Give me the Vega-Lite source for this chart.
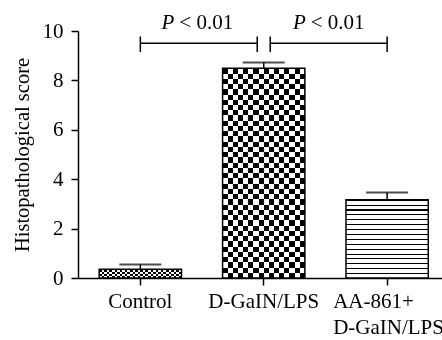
{
  "$schema": "https://vega.github.io/schema/vega-lite/v6.json",
  "width": 364,
  "height": 247,
  "autosize": "none",
  "padding": {"left": 78, "top": 31, "right": 0, "bottom": 62},
  "background": "white",
  "config": {"font": "Liberation Serif", "view": {"stroke": null}},
  "data": {"values": [
    {"group": "Control", "score": 0.35, "hi": 0.55},
    {"group": "D-GaIN/LPS", "score": 8.49, "hi": 8.72},
    {"group": "AA-861+ D-GaIN/LPS", "score": 3.17, "hi": 3.46}
  ]},
  "layer": [
    {
      "transform": [{"filter": "datum.group === 'Control'"}],
      "mark": {"type": "bar", "fill": {"gradient": "linear", "x1": 0, "y1": 0, "x2": 0, "y2": 1, "stops": [
        {"offset": 0, "color": "#000"}, {"offset": 0.25, "color": "#000"},
        {"offset": 0.25, "color": "#fff"}, {"offset": 0.5, "color": "#fff"},
        {"offset": 0.5, "color": "#000"}, {"offset": 0.75, "color": "#000"},
        {"offset": 0.75, "color": "#fff"}, {"offset": 1, "color": "#fff"}
      ]}},
      "encoding": {
        "x": {"field": "group", "type": "nominal", "title": null,
          "scale": {"domain": ["Control", "D-GaIN/LPS", "AA-861+ D-GaIN/LPS"], "paddingInner": 0.333, "paddingOuter": 0.1415, "align": 0.607},
          "axis": {"labelAngle": 0, "labelFontSize": 21, "labelColor": "#000", "tickSize": 7, "tickWidth": 1.5, "tickColor": "#000", "domainColor": "#000", "domainWidth": 1.5, "labelPadding": 5, "labelLineHeight": 26,
            "labelExpr": "datum.value == 'AA-861+ D-GaIN/LPS' ? ['AA-861+', 'D-GaIN/LPS'] : datum.value",
            "labelAlign": {"condition": {"test": "datum.value == 'AA-861+ D-GaIN/LPS'", "value": "left"}, "value": "center"},
            "labelOffset": {"condition": {"test": "datum.value == 'AA-861+ D-GaIN/LPS'", "value": -54}, "value": 0}}},
        "y": {"field": "score", "type": "quantitative", "title": "Histopathological score",
          "scale": {"domain": [0, 10], "nice": false},
          "axis": {"values": [0, 2, 4, 6, 8, 10], "grid": false, "labelFontSize": 21, "labelColor": "#000", "titleFontSize": 20.5, "titleFontWeight": "normal", "titleColor": "#000", "tickSize": 7, "tickWidth": 1.5, "tickColor": "#000", "domainColor": "#000", "domainWidth": 1.5, "labelPadding": 8, "titlePadding": 10}}
      }
    },
    {
      "transform": [{"filter": "datum.group === 'Control'"}],
      "mark": {"type": "bar", "blend": "difference", "fill": {"gradient": "linear", "x1": 0, "y1": 0, "x2": 1, "y2": 0, "stops": [
        {"offset": 0, "color": "#000"}, {"offset": 0.03125, "color": "#000"},
        {"offset": 0.03125, "color": "#fff"}, {"offset": 0.0625, "color": "#fff"},
        {"offset": 0.0625, "color": "#000"}, {"offset": 0.09375, "color": "#000"},
        {"offset": 0.09375, "color": "#fff"}, {"offset": 0.125, "color": "#fff"},
        {"offset": 0.125, "color": "#000"}, {"offset": 0.15625, "color": "#000"},
        {"offset": 0.15625, "color": "#fff"}, {"offset": 0.1875, "color": "#fff"},
        {"offset": 0.1875, "color": "#000"}, {"offset": 0.21875, "color": "#000"},
        {"offset": 0.21875, "color": "#fff"}, {"offset": 0.25, "color": "#fff"},
        {"offset": 0.25, "color": "#000"}, {"offset": 0.28125, "color": "#000"},
        {"offset": 0.28125, "color": "#fff"}, {"offset": 0.3125, "color": "#fff"},
        {"offset": 0.3125, "color": "#000"}, {"offset": 0.34375, "color": "#000"},
        {"offset": 0.34375, "color": "#fff"}, {"offset": 0.375, "color": "#fff"},
        {"offset": 0.375, "color": "#000"}, {"offset": 0.40625, "color": "#000"},
        {"offset": 0.40625, "color": "#fff"}, {"offset": 0.4375, "color": "#fff"},
        {"offset": 0.4375, "color": "#000"}, {"offset": 0.46875, "color": "#000"},
        {"offset": 0.46875, "color": "#fff"}, {"offset": 0.5, "color": "#fff"},
        {"offset": 0.5, "color": "#000"}, {"offset": 0.53125, "color": "#000"},
        {"offset": 0.53125, "color": "#fff"}, {"offset": 0.5625, "color": "#fff"},
        {"offset": 0.5625, "color": "#000"}, {"offset": 0.59375, "color": "#000"},
        {"offset": 0.59375, "color": "#fff"}, {"offset": 0.625, "color": "#fff"},
        {"offset": 0.625, "color": "#000"}, {"offset": 0.65625, "color": "#000"},
        {"offset": 0.65625, "color": "#fff"}, {"offset": 0.6875, "color": "#fff"},
        {"offset": 0.6875, "color": "#000"}, {"offset": 0.71875, "color": "#000"},
        {"offset": 0.71875, "color": "#fff"}, {"offset": 0.75, "color": "#fff"},
        {"offset": 0.75, "color": "#000"}, {"offset": 0.78125, "color": "#000"},
        {"offset": 0.78125, "color": "#fff"}, {"offset": 0.8125, "color": "#fff"},
        {"offset": 0.8125, "color": "#000"}, {"offset": 0.84375, "color": "#000"},
        {"offset": 0.84375, "color": "#fff"}, {"offset": 0.875, "color": "#fff"},
        {"offset": 0.875, "color": "#000"}, {"offset": 0.90625, "color": "#000"},
        {"offset": 0.90625, "color": "#fff"}, {"offset": 0.9375, "color": "#fff"},
        {"offset": 0.9375, "color": "#000"}, {"offset": 0.96875, "color": "#000"},
        {"offset": 0.96875, "color": "#fff"}, {"offset": 1, "color": "#fff"}
      ]}},
      "encoding": {
        "x": {"field": "group", "type": "nominal", "title": null},
        "y": {"field": "score", "type": "quantitative", "title": "Histopathological score"}
      }
    },
    {
      "transform": [{"filter": "datum.group === 'D-GaIN/LPS'"}],
      "mark": {"type": "bar", "fill": {"gradient": "linear", "x1": 0, "y1": 0, "x2": 0, "y2": 1, "stops": [
        {"offset": 0, "color": "#000"}, {"offset": 0.025, "color": "#000"},
        {"offset": 0.025, "color": "#fff"}, {"offset": 0.05, "color": "#fff"},
        {"offset": 0.05, "color": "#000"}, {"offset": 0.075, "color": "#000"},
        {"offset": 0.075, "color": "#fff"}, {"offset": 0.1, "color": "#fff"},
        {"offset": 0.1, "color": "#000"}, {"offset": 0.125, "color": "#000"},
        {"offset": 0.125, "color": "#fff"}, {"offset": 0.15, "color": "#fff"},
        {"offset": 0.15, "color": "#000"}, {"offset": 0.175, "color": "#000"},
        {"offset": 0.175, "color": "#fff"}, {"offset": 0.2, "color": "#fff"},
        {"offset": 0.2, "color": "#000"}, {"offset": 0.225, "color": "#000"},
        {"offset": 0.225, "color": "#fff"}, {"offset": 0.25, "color": "#fff"},
        {"offset": 0.25, "color": "#000"}, {"offset": 0.275, "color": "#000"},
        {"offset": 0.275, "color": "#fff"}, {"offset": 0.3, "color": "#fff"},
        {"offset": 0.3, "color": "#000"}, {"offset": 0.325, "color": "#000"},
        {"offset": 0.325, "color": "#fff"}, {"offset": 0.35, "color": "#fff"},
        {"offset": 0.35, "color": "#000"}, {"offset": 0.375, "color": "#000"},
        {"offset": 0.375, "color": "#fff"}, {"offset": 0.4, "color": "#fff"},
        {"offset": 0.4, "color": "#000"}, {"offset": 0.425, "color": "#000"},
        {"offset": 0.425, "color": "#fff"}, {"offset": 0.45, "color": "#fff"},
        {"offset": 0.45, "color": "#000"}, {"offset": 0.475, "color": "#000"},
        {"offset": 0.475, "color": "#fff"}, {"offset": 0.5, "color": "#fff"},
        {"offset": 0.5, "color": "#000"}, {"offset": 0.525, "color": "#000"},
        {"offset": 0.525, "color": "#fff"}, {"offset": 0.55, "color": "#fff"},
        {"offset": 0.55, "color": "#000"}, {"offset": 0.575, "color": "#000"},
        {"offset": 0.575, "color": "#fff"}, {"offset": 0.6, "color": "#fff"},
        {"offset": 0.6, "color": "#000"}, {"offset": 0.625, "color": "#000"},
        {"offset": 0.625, "color": "#fff"}, {"offset": 0.65, "color": "#fff"},
        {"offset": 0.65, "color": "#000"}, {"offset": 0.675, "color": "#000"},
        {"offset": 0.675, "color": "#fff"}, {"offset": 0.7, "color": "#fff"},
        {"offset": 0.7, "color": "#000"}, {"offset": 0.725, "color": "#000"},
        {"offset": 0.725, "color": "#fff"}, {"offset": 0.75, "color": "#fff"},
        {"offset": 0.75, "color": "#000"}, {"offset": 0.775, "color": "#000"},
        {"offset": 0.775, "color": "#fff"}, {"offset": 0.8, "color": "#fff"},
        {"offset": 0.8, "color": "#000"}, {"offset": 0.825, "color": "#000"},
        {"offset": 0.825, "color": "#fff"}, {"offset": 0.85, "color": "#fff"},
        {"offset": 0.85, "color": "#000"}, {"offset": 0.875, "color": "#000"},
        {"offset": 0.875, "color": "#fff"}, {"offset": 0.9, "color": "#fff"},
        {"offset": 0.9, "color": "#000"}, {"offset": 0.925, "color": "#000"},
        {"offset": 0.925, "color": "#fff"}, {"offset": 0.95, "color": "#fff"},
        {"offset": 0.95, "color": "#000"}, {"offset": 0.975, "color": "#000"},
        {"offset": 0.975, "color": "#fff"}, {"offset": 1, "color": "#fff"}
      ]}},
      "encoding": {
        "x": {"field": "group", "type": "nominal", "title": null},
        "y": {"field": "score", "type": "quantitative", "title": "Histopathological score"}
      }
    },
    {
      "transform": [{"filter": "datum.group === 'D-GaIN/LPS'"}],
      "mark": {"type": "bar", "blend": "difference", "fill": {"gradient": "linear", "x1": 0, "y1": 0, "x2": 1, "y2": 0, "stops": [
        {"offset": 0, "color": "#000"}, {"offset": 0.0625, "color": "#000"},
        {"offset": 0.0625, "color": "#fff"}, {"offset": 0.125, "color": "#fff"},
        {"offset": 0.125, "color": "#000"}, {"offset": 0.1875, "color": "#000"},
        {"offset": 0.1875, "color": "#fff"}, {"offset": 0.25, "color": "#fff"},
        {"offset": 0.25, "color": "#000"}, {"offset": 0.3125, "color": "#000"},
        {"offset": 0.3125, "color": "#fff"}, {"offset": 0.375, "color": "#fff"},
        {"offset": 0.375, "color": "#000"}, {"offset": 0.4375, "color": "#000"},
        {"offset": 0.4375, "color": "#fff"}, {"offset": 0.5, "color": "#fff"},
        {"offset": 0.5, "color": "#000"}, {"offset": 0.5625, "color": "#000"},
        {"offset": 0.5625, "color": "#fff"}, {"offset": 0.625, "color": "#fff"},
        {"offset": 0.625, "color": "#000"}, {"offset": 0.6875, "color": "#000"},
        {"offset": 0.6875, "color": "#fff"}, {"offset": 0.75, "color": "#fff"},
        {"offset": 0.75, "color": "#000"}, {"offset": 0.8125, "color": "#000"},
        {"offset": 0.8125, "color": "#fff"}, {"offset": 0.875, "color": "#fff"},
        {"offset": 0.875, "color": "#000"}, {"offset": 0.9375, "color": "#000"},
        {"offset": 0.9375, "color": "#fff"}, {"offset": 1, "color": "#fff"}
      ]}},
      "encoding": {
        "x": {"field": "group", "type": "nominal", "title": null},
        "y": {"field": "score", "type": "quantitative", "title": "Histopathological score"}
      }
    },
    {
      "transform": [{"filter": "datum.group === 'AA-861+ D-GaIN/LPS'"}],
      "mark": {"type": "bar", "fill": {"gradient": "linear", "x1": 0, "y1": 0, "x2": 0, "y2": 1, "stops": [
        {"offset": 0, "color": "#000"}, {"offset": 0.013, "color": "#000"}, {"offset": 0.013, "color": "#fff"}, {"offset": 0.0625, "color": "#fff"},
        {"offset": 0.0625, "color": "#000"}, {"offset": 0.0755, "color": "#000"}, {"offset": 0.0755, "color": "#fff"}, {"offset": 0.125, "color": "#fff"},
        {"offset": 0.125, "color": "#000"}, {"offset": 0.138, "color": "#000"}, {"offset": 0.138, "color": "#fff"}, {"offset": 0.1875, "color": "#fff"},
        {"offset": 0.1875, "color": "#000"}, {"offset": 0.2005, "color": "#000"}, {"offset": 0.2005, "color": "#fff"}, {"offset": 0.25, "color": "#fff"},
        {"offset": 0.25, "color": "#000"}, {"offset": 0.263, "color": "#000"}, {"offset": 0.263, "color": "#fff"}, {"offset": 0.3125, "color": "#fff"},
        {"offset": 0.3125, "color": "#000"}, {"offset": 0.3255, "color": "#000"}, {"offset": 0.3255, "color": "#fff"}, {"offset": 0.375, "color": "#fff"},
        {"offset": 0.375, "color": "#000"}, {"offset": 0.388, "color": "#000"}, {"offset": 0.388, "color": "#fff"}, {"offset": 0.4375, "color": "#fff"},
        {"offset": 0.4375, "color": "#000"}, {"offset": 0.4505, "color": "#000"}, {"offset": 0.4505, "color": "#fff"}, {"offset": 0.5, "color": "#fff"},
        {"offset": 0.5, "color": "#000"}, {"offset": 0.513, "color": "#000"}, {"offset": 0.513, "color": "#fff"}, {"offset": 0.5625, "color": "#fff"},
        {"offset": 0.5625, "color": "#000"}, {"offset": 0.5755, "color": "#000"}, {"offset": 0.5755, "color": "#fff"}, {"offset": 0.625, "color": "#fff"},
        {"offset": 0.625, "color": "#000"}, {"offset": 0.638, "color": "#000"}, {"offset": 0.638, "color": "#fff"}, {"offset": 0.6875, "color": "#fff"},
        {"offset": 0.6875, "color": "#000"}, {"offset": 0.7005, "color": "#000"}, {"offset": 0.7005, "color": "#fff"}, {"offset": 0.75, "color": "#fff"},
        {"offset": 0.75, "color": "#000"}, {"offset": 0.763, "color": "#000"}, {"offset": 0.763, "color": "#fff"}, {"offset": 0.8125, "color": "#fff"},
        {"offset": 0.8125, "color": "#000"}, {"offset": 0.8255, "color": "#000"}, {"offset": 0.8255, "color": "#fff"}, {"offset": 0.875, "color": "#fff"},
        {"offset": 0.875, "color": "#000"}, {"offset": 0.888, "color": "#000"}, {"offset": 0.888, "color": "#fff"}, {"offset": 0.9375, "color": "#fff"},
        {"offset": 0.9375, "color": "#000"}, {"offset": 0.9505, "color": "#000"}, {"offset": 0.9505, "color": "#fff"}, {"offset": 1, "color": "#fff"}
      ]}},
      "encoding": {
        "x": {"field": "group", "type": "nominal", "title": null},
        "y": {"field": "score", "type": "quantitative", "title": "Histopathological score"}
      }
    },
    {
      "mark": {"type": "bar", "fill": "transparent", "stroke": "#000", "strokeWidth": 1.5},
      "encoding": {
        "x": {"field": "group", "type": "nominal", "title": null},
        "y": {"field": "score", "type": "quantitative", "title": "Histopathological score"}
      }
    },
    {
      "mark": {"type": "rule", "color": "#000", "strokeWidth": 1.5},
      "encoding": {
        "x": {"field": "group", "type": "nominal", "title": null},
        "y": {"field": "score", "type": "quantitative", "title": "Histopathological score"},
        "y2": {"field": "hi"}
      }
    },
    {
      "mark": {"type": "tick", "color": "#000", "size": 42, "thickness": 2, "orient": "horizontal"},
      "encoding": {
        "x": {"field": "group", "type": "nominal", "title": null},
        "y": {"field": "hi", "type": "quantitative", "title": "Histopathological score"}
      }
    },
    {
      "data": {"values": [{"group": "Control", "group2": "D-GaIN/LPS", "y": 9.5, "lo": 9.15, "hi": 9.78, "ty": 10.08}]},
      "layer": [
        {"mark": {"type": "rule", "color": "#000", "strokeWidth": 1.5, "x2Offset": -6.5},
         "encoding": {"x": {"field": "group", "type": "nominal", "title": null}, "x2": {"field": "group2"}, "y": {"field": "y", "type": "quantitative", "title": "Histopathological score"}}},
        {"mark": {"type": "rule", "color": "#000", "strokeWidth": 1.5},
         "encoding": {"x": {"field": "group", "type": "nominal", "title": null}, "y": {"field": "lo", "type": "quantitative", "title": "Histopathological score"}, "y2": {"field": "hi"}}},
        {"mark": {"type": "rule", "color": "#000", "strokeWidth": 1.5, "xOffset": -6.5},
         "encoding": {"x": {"field": "group2", "type": "nominal", "title": null}, "y": {"field": "lo", "type": "quantitative", "title": "Histopathological score"}, "y2": {"field": "hi"}}},
        {"mark": {"type": "text", "text": "P", "fontStyle": "italic", "fontSize": 21, "align": "right", "baseline": "alphabetic", "dx": 34, "color": "#000"},
         "encoding": {"x": {"field": "group", "type": "nominal", "title": null}, "y": {"field": "ty", "type": "quantitative", "title": "Histopathological score"}}},
        {"mark": {"type": "text", "text": "< 0.01", "fontSize": 21, "align": "left", "baseline": "alphabetic", "dx": 39, "color": "#000"},
         "encoding": {"x": {"field": "group", "type": "nominal", "title": null}, "y": {"field": "ty", "type": "quantitative", "title": "Histopathological score"}}}
      ]
    },
    {
      "data": {"values": [{"group": "D-GaIN/LPS", "group2": "AA-861+ D-GaIN/LPS", "y": 9.5, "lo": 9.15, "hi": 9.78, "ty": 10.08}]},
      "layer": [
        {"mark": {"type": "rule", "color": "#000", "strokeWidth": 1.5, "xOffset": 6.5},
         "encoding": {"x": {"field": "group", "type": "nominal", "title": null}, "x2": {"field": "group2"}, "y": {"field": "y", "type": "quantitative", "title": "Histopathological score"}}},
        {"mark": {"type": "rule", "color": "#000", "strokeWidth": 1.5, "xOffset": 6.5},
         "encoding": {"x": {"field": "group", "type": "nominal", "title": null}, "y": {"field": "lo", "type": "quantitative", "title": "Histopathological score"}, "y2": {"field": "hi"}}},
        {"mark": {"type": "rule", "color": "#000", "strokeWidth": 1.5},
         "encoding": {"x": {"field": "group2", "type": "nominal", "title": null}, "y": {"field": "lo", "type": "quantitative", "title": "Histopathological score"}, "y2": {"field": "hi"}}},
        {"mark": {"type": "text", "text": "P", "fontStyle": "italic", "fontSize": 21, "align": "right", "baseline": "alphabetic", "dx": 42, "color": "#000"},
         "encoding": {"x": {"field": "group", "type": "nominal", "title": null}, "y": {"field": "ty", "type": "quantitative", "title": "Histopathological score"}}},
        {"mark": {"type": "text", "text": "< 0.01", "fontSize": 21, "align": "left", "baseline": "alphabetic", "dx": 47, "color": "#000"},
         "encoding": {"x": {"field": "group", "type": "nominal", "title": null}, "y": {"field": "ty", "type": "quantitative", "title": "Histopathological score"}}}
      ]
    }
  ]
}
